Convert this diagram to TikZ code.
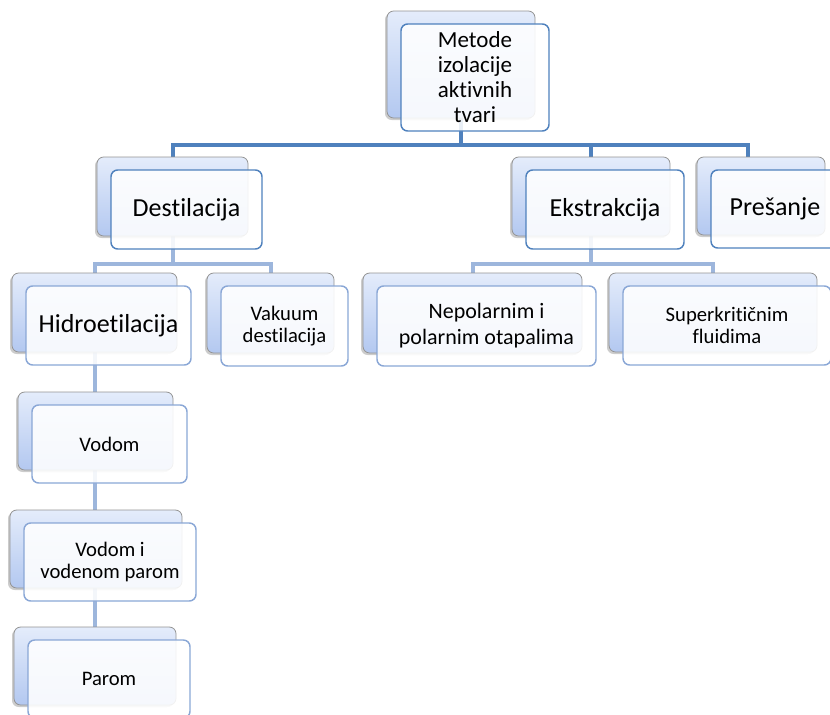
\documentclass[tikz,border=0pt]{standalone}
\usepackage{fontspec}
\setmainfont{Carlito}[Ligatures=NoCommon]
\usetikzlibrary{shadows, backgrounds}

\definecolor{lineDark}{HTML}{4F81BD}
\definecolor{lineLight}{HTML}{9DB6DC}
\definecolor{edgeMid}{HTML}{8AA7D6}
\definecolor{backTop}{HTML}{E4ECFB}
\definecolor{backBot}{HTML}{B3C8F0}

\begin{document}
\begin{tikzpicture}[x=0.75pt, y=-0.75pt,
            back/.style 2 args={draw=gray!85, line width=0.6pt, rounded corners=5pt, top color=backTop, bottom color=backBot, minimum width=#1*0.75pt, minimum height=#2*0.75pt, inner sep=0pt, drop shadow={shadow xshift=-1.5pt, shadow yshift=-1.5pt, opacity=0.4}},
            front/.style 2 args={draw=lineDark, line width=1.1pt, rounded corners=5pt, fill=white, fill opacity=0.88, text opacity=1, minimum width=#1*0.75pt, minimum height=#2*0.75pt, inner sep=0pt, align=center, xshift=10.5pt, yshift=-9.75pt},
            sub/.style={draw=edgeMid},
            big/.style={font=\fontsize{19.5}{23}\selectfont},
            small/.style={font=\fontsize{15.5}{16.5}\selectfont},
            link/.style={draw=lineDark, line width=3pt},
            sublink/.style={draw=lineLight, line width=3pt}
        ]
            \clip (0,0) rectangle (830,714);

            \node[back={148}{107}] (top) at (461,64.5) {};
            \node[front={148}{107}, font=\fontsize{17.25}{18.75}\selectfont] (topt) at (top) {Metode\\izolacije\\aktivnih\\tvari};

            \node[back={151}{79}] (dest) at (172.5,196.5) {};
            \node[front={151}{79}, big] (destt) at (dest) {Destilacija};
            \node[back={158}{79}] (ekst) at (591,196.5) {};
            \node[front={158}{79}, big] (ekstt) at (ekst) {Ekstrakcija};
            \node[back={128}{78}] (pres) at (761,196) {};
            \node[front={128}{78}, big] (prest) at (pres) {Prešanje};

            \node[back={165}{79}] (hidro) at (94.5,312.5) {};
            \node[front={165}{79}, sub, big] (hidrot) at (hidro) {Hidroetilacija};
            \node[back={127}{80}] (vak) at (270.5,313) {};
            \node[front={127}{80}, sub, small] (vakt) at (vak) {Vakuum\\destilacija};
            \node[back={219}{80}] (nepol) at (472.5,313) {};
            \node[front={219}{80}, sub, font=\fontsize{16.5}{19.5}\selectfont] (nepolt) at (nepol) {Nepolarnim i\\polarnim otapalima};
            \node[back={208}{79}] (super) at (713,312.5) {};
            \node[front={208}{79}, sub, small] (supert) at (super) {Superkritičnim\\fluidima};

            \node[back={155}{78}] (vodom) at (95.5,431) {};
            \node[front={155}{78}, sub, small] (vodomt) at (vodom) {Vodom};
            \node[back={172}{78}] (vvp) at (96,549) {};
            \node[front={172}{78}, sub, small] (vvpt) at (vvp) {Vodom i\\vodenom parom};
            \node[back={162}{78}] (parom) at (95,666) {};
            \node[front={162}{78}, sub, small] (paromt) at (parom) {Parom};

            \begin{pgfonlayer}{background}
                \draw[link] (top.south) -- ++(0,27) -| (dest.north);
                \draw[link] (top.south) -- ++(0,27) -| (ekst.north);
                \draw[link] (top.south) -- ++(0,27) -| ([xshift=-9.75pt]pres.north);
                \draw[sublink] (dest.south) -- ++(0,28) -| (hidro.north);
                \draw[sublink] (dest.south) -- ++(0,28) -| (vak.north);
                \draw[sublink] (ekst.south) -- ++(0,28) -| (nepol.north);
                \draw[sublink] (ekst.south) -- ++(0,28) -| (super.north);
                \draw[sublink] (hidro.south) -- (hidro.south |- parom.north);
            \end{pgfonlayer}
        \end{tikzpicture}
\end{document}
